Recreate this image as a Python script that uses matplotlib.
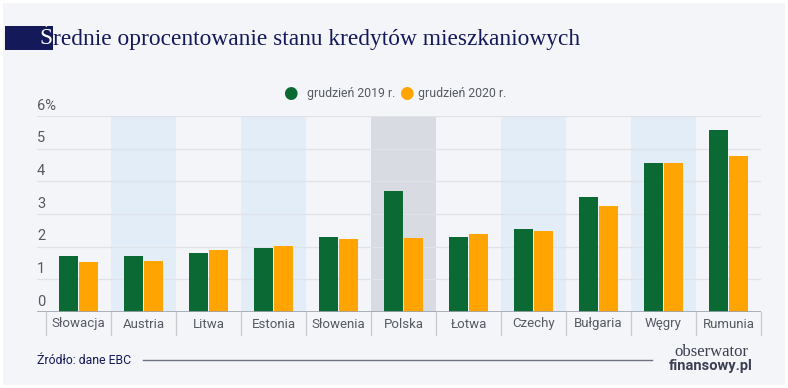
import matplotlib.pyplot as plt
import matplotlib.transforms as mtransforms
from matplotlib.patches import Rectangle
from matplotlib.lines import Line2D
import numpy as np

# Data
countries = ["Słowacja", "Austria", "Litwa", "Estonia", "Słowenia", "Polska",
             "Łotwa", "Czechy", "Bułgaria", "Węgry", "Rumunia"]
dec_2019 = [1.72, 1.72, 1.81, 1.96, 2.29, 3.70, 2.29, 2.54, 3.52, 4.56, 5.57]
dec_2020 = [1.52, 1.55, 1.90, 2.02, 2.23, 2.27, 2.38, 2.49, 3.24, 4.56, 4.77]
y_ticks = [0, 1, 2, 3, 4, 5, 6]
y_labels = ["0", "1", "2", "3", "4", "5", "6%"]
shaded_blue = ["Austria", "Estonia", "Czechy", "Węgry"]
shaded_grey = ["Polska"]

W, H = 788, 388
GREEN = "#0b6a34"
ORANGE = "#ffa400"
NAVY = "#14195a"
BG = "#f4f5f8"
SANS = "Roboto"


def fx(px):
    return px / W


def fy(py):
    return 1 - py / H


fig = plt.figure(figsize=(W / 100, H / 100), dpi=100, facecolor="white")
fig.patches.append(Rectangle((fx(3), fy(385)), fx(782), 382 / H, transform=fig.transFigure,
                             facecolor=BG, edgecolor="none", zorder=-10))

# axes: x from 37 px to 761 px, y from 312 px (0) to 116 px (6)
ax = fig.add_axes([fx(37), fy(312), fx(724), (312 - 116) / H])
ax.set_facecolor("none")
n = len(countries)
x = np.arange(n)
ax.set_xlim(-0.5 - 9 / 65, n - 0.5)
ax.set_ylim(0, 6)

for i, c in enumerate(countries):
    if c in shaded_blue:
        ax.axvspan(i - 0.5, i + 0.5, color="#e2edf8", zorder=0, lw=0)
    elif c in shaded_grey:
        ax.axvspan(i - 0.5, i + 0.5, color="#d9dbe3", zorder=0, lw=0)

for v in y_ticks[1:]:
    ax.axhline(v, color="#dfe2e8", lw=0.9, zorder=1)

bw = 0.29
ax.bar(x - 0.155, dec_2019, width=bw, color=GREEN, zorder=3)
ax.bar(x + 0.155, dec_2020, width=bw, color=ORANGE, zorder=3)

for s in ax.spines.values():
    s.set_visible(False)
ax.axhline(0, color="#9ea3ad", lw=1.2, zorder=4)
ax.set_xticks([])
ax.set_yticks([])

ytr = mtransforms.blended_transform_factory(ax.transAxes, ax.transData)
for v, lab in zip(y_ticks, y_labels):
    ax.text(0, v + 0.1, lab, transform=ytr, ha="left", va="bottom",
            fontsize=10.5, color="#555a63", family=SANS)

# category labels and dividers below axis
xtr = mtransforms.blended_transform_factory(ax.transData, fig.transFigure)
for i, c in enumerate(countries):
    ax.text(i, fy(324), c, transform=xtr, ha="center", va="center",
            fontsize=9.5, color="#555a63", family=SANS)
for b in np.arange(-0.5, n, 1.0):
    fig.add_artist(Line2D([b, b], [fy(312), fy(335)], transform=xtr,
                          color="#c6c9d0", lw=0.9))

# legend
fig.text(fx(290), fy(93), "●", color=GREEN, fontsize=12, ha="center", va="center")
fig.text(fx(307), fy(93), "grudzień 2019 r.", color="#555a63", fontsize=8.8,
         ha="left", va="center", family=SANS)
fig.text(fx(406), fy(93), "●", color=ORANGE, fontsize=12, ha="center", va="center")
fig.text(fx(418), fy(93), "grudzień 2020 r.", color="#555a63", fontsize=8.8,
         ha="left", va="center", family=SANS)

# title
fig.patches.append(Rectangle((fx(5), fy(50)), fx(48), 24 / H, transform=fig.transFigure,
                             facecolor=NAVY, edgecolor="none"))
fig.text(fx(53), fy(39), "Ś", color="white", fontsize=16.8, ha="right", va="center",
         family="Liberation Serif")
fig.text(fx(53), fy(39), "rednie oprocentowanie stanu kredytów mieszkaniowych",
         color=NAVY, fontsize=16.8, ha="left", va="center", family="Liberation Serif")

# source
fig.text(fx(37), fy(361), "Źródło: dane EBC", color=NAVY, fontsize=8.8,
         ha="left", va="center", family=SANS)
fig.add_artist(Line2D([fx(143), fx(652)], [fy(360), fy(360)], transform=fig.transFigure,
                      color="#6d7282", lw=1))
fig.text(fx(711), fy(352), "obserwator", color="#3b3f52", fontsize=12,
         ha="center", va="center", family="Liberation Serif")
fig.text(fx(711), fy(366), "finansowy.pl", color="#3b3f52", fontsize=10.5,
         ha="center", va="center", family=SANS, fontweight="bold")

fig.savefig("out.png", dpi=100, facecolor="white")
